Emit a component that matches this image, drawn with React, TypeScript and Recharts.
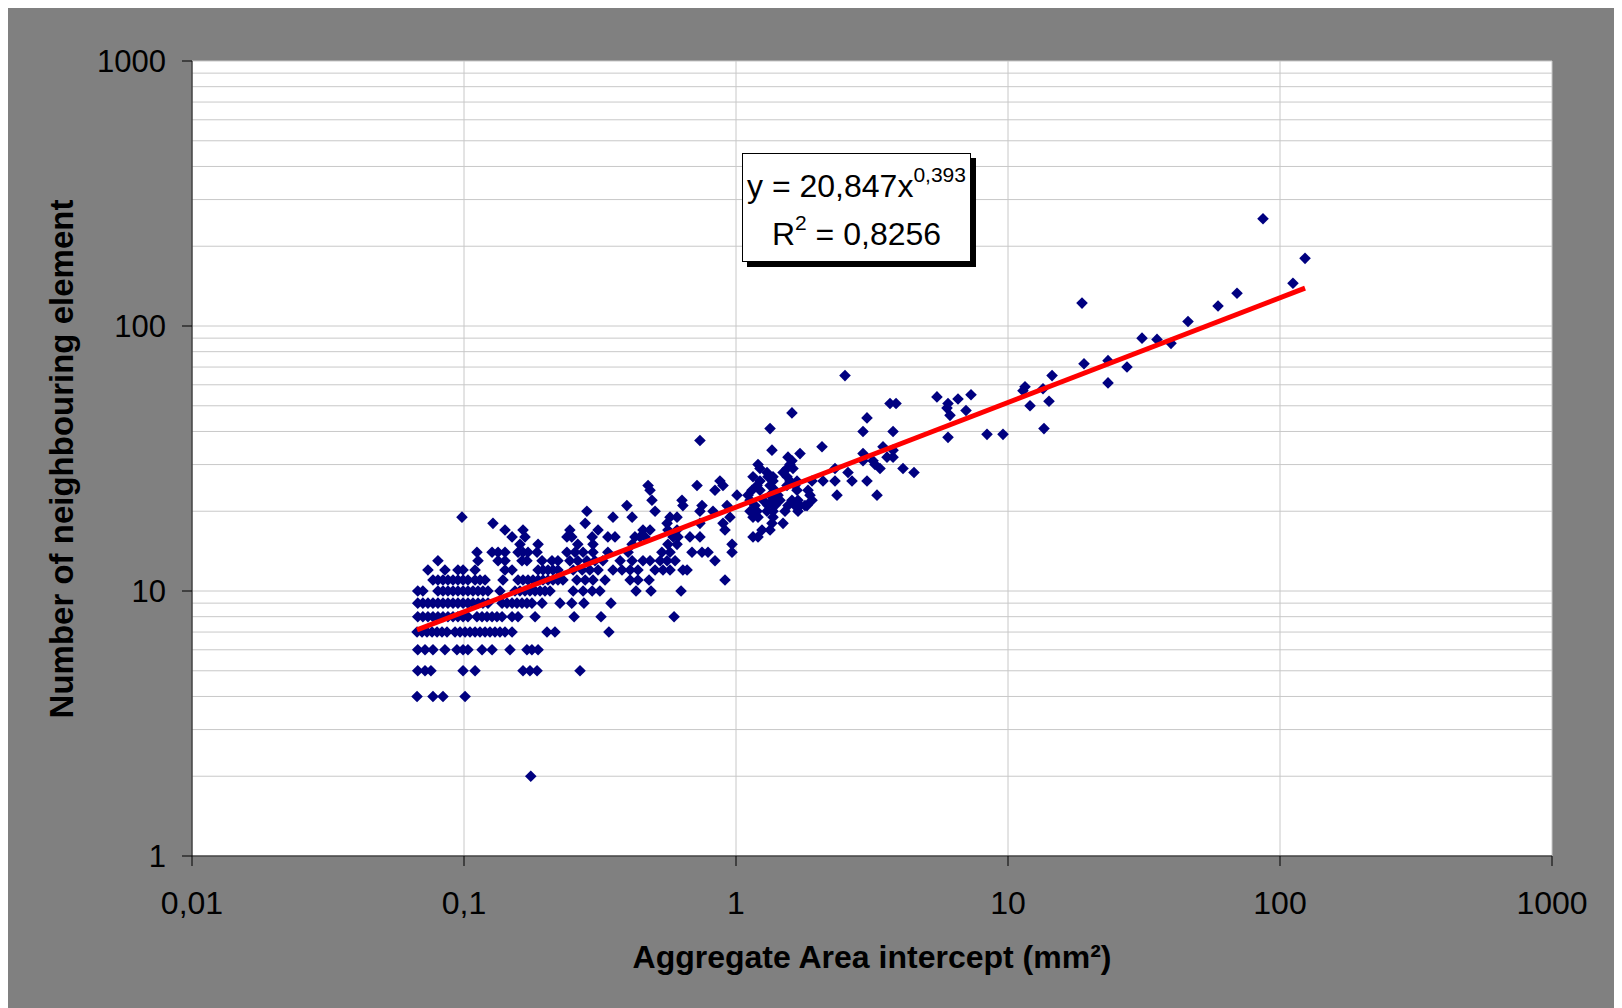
import React from 'react';
import { ScatterChart, Scatter, XAxis, YAxis, CartesianGrid } from 'recharts';

// aggregate area (mm²) of each particle, grouped by its number of neighbours
const lowCounts: [number, number[]][] = [
  [2, [0.176]],
  [4, [0.0672, 0.0769, 0.0837, 0.1009]],
  [5, [0.0676, 0.0719, 0.0756, 0.0992, 0.1098, 0.1648, 0.1748, 0.1856, 0.267]],
  [6, [0.0676, 0.0719, 0.0769, 0.0851, 0.0942, 0.0992, 0.1034, 0.1165, 0.1268, 0.1476, 0.1704, 0.1777, 0.1872]],
  [7, [0.0672, 0.0701, 0.0731, 0.0763, 0.0796, 0.083, 0.0866, 0.0927, 0.0967, 0.1009, 0.1052, 0.1098, 0.1145,
    0.1195, 0.1246, 0.13, 0.1356, 0.1415, 0.1502, 0.2019, 0.216, 0.341]],
  [8, [0.0676, 0.0706, 0.0737, 0.0769, 0.0802, 0.0837, 0.0873, 0.0911, 0.095, 0.0992, 0.1034, 0.1116, 0.1165,
    0.1215, 0.1268, 0.1322, 0.138, 0.1502, 0.158, 0.1825, 0.254, 0.319, 0.592]],
  [9, [0.0676, 0.0706, 0.0737, 0.0769, 0.0802, 0.0837, 0.0873, 0.0911, 0.095, 0.0992, 0.1034, 0.1079, 0.1126,
    0.1174, 0.1225, 0.138, 0.1439, 0.1502, 0.1566, 0.1634, 0.1704, 0.1777, 0.1936, 0.2254, 0.249, 0.276, 0.347]],
];

const midCounts: [number, number[]][] = [
  [10, [0.0676, 0.0706, 0.0802, 0.0837, 0.0873, 0.0911, 0.095, 0.0992, 0.1034, 0.1079, 0.1126, 0.1174, 0.1225,
    0.1356, 0.154, 0.1606, 0.1676, 0.1748, 0.1825, 0.1904, 0.1985, 0.2071, 0.252, 0.274, 0.296, 0.316, 0.429,
    0.487, 0.628]],
  [11, [0.0769, 0.0802, 0.0837, 0.0873, 0.0911, 0.095, 0.0992, 0.1034, 0.1098, 0.1145, 0.1195, 0.1391, 0.158,
    0.1648, 0.1719, 0.1793, 0.1872, 0.1952, 0.2036, 0.2124, 0.2215, 0.2311, 0.26, 0.279, 0.298, 0.33, 0.408,
    0.436, 0.479, 0.911]],
  [12, [0.0737, 0.0851, 0.095, 0.0992, 0.1098, 0.1415, 0.1502, 0.1872, 0.1952, 0.2036, 0.2124, 0.2215, 0.252,
    0.272, 0.29, 0.311, 0.353, 0.381, 0.408, 0.436, 0.504, 0.539, 0.572, 0.638, 0.661]],
  [13, [0.0802, 0.1126, 0.1334, 0.1415, 0.1634, 0.1704, 0.1936, 0.2106, 0.2215, 0.245, 0.262, 0.283, 0.303,
    0.324, 0.375, 0.415, 0.455, 0.483, 0.526, 0.558, 0.597, 0.837]],
  [14, [0.1116, 0.1268, 0.1334, 0.1415, 0.158, 0.1648, 0.1719, 0.1856, 0.239, 0.256, 0.274, 0.298, 0.338,
    0.401, 0.534, 0.572, 0.689, 0.75, 0.789, 0.967]],
  [15, [0.1606, 0.1872, 0.262, 0.298, 0.415, 0.562, 0.607, 0.967]],
  [16, [0.1502, 0.1676, 0.239, 0.249, 0.296, 0.338, 0.359, 0.425, 0.444, 0.463, 0.587, 0.612, 0.677, 0.737,
    1.155, 1.205]],
  [17, [0.1415, 0.1648, 0.245, 0.311, 0.455, 0.483, 0.562, 0.607, 0.911, 1.246, 1.334]],
  [18, [0.1278, 0.279, 0.558, 0.737, 0.896, 1.356, 1.489]],
  [19, [0.0983, 0.353, 0.415, 0.572, 0.607, 0.95, 1.155, 1.205, 1.368]],
];

const highCounts: [number, number[]][] = [
  [20, [0.283, 0.504, 0.737, 0.823, 1.126, 1.195, 1.3, 1.368, 1.514, 1.69]],
  [21, [0.397, 0.638, 0.75, 0.927, 1.174, 1.311, 1.391, 1.553, 1.648, 1.719, 1.793, 1.824]],
  [22, [0.491, 0.633, 1.126, 1.257, 1.368, 1.451, 1.606, 1.69, 1.903]],
  [23, [1.0085, 1.107, 1.334, 1.427, 1.871, 2.351, 3.299]],
  [24, [0.483, 0.837, 1.145, 1.225, 1.391, 1.676, 1.84]],
  [25, [0.475, 0.719, 0.896, 1.195, 1.334, 1.54, 1.648]],
  [26, [0.873, 1.225, 1.368, 1.579, 1.676, 1.903, 2.089, 2.312, 2.67, 3.031]],
  [27, [1.155, 1.311, 1.368, 1.54]],
  [28, [1.3, 1.489, 2.581, 4.512]],
  [29, [1.225, 1.54, 1.62, 2.312, 3.384, 4.111]],
  [30, [1.205, 1.579, 3.243]],
  [31, [1.606, 2.931, 3.189]],
  [32, [1.553, 3.591, 3.779]],
  [33, [1.719, 2.931]],
  [34, [1.356, 3.779]],
  [35, [2.071, 3.471]],
  [37, [0.737]],
  [38, [6.018]],
  [39, [8.372, 9.586]],
  [40, [2.931, 3.779]],
  [41, [1.334, 13.56]],
  [45, [3.031]],
  [46, [6.121]],
  [47, [1.606]],
  [48, [7.009]],
  [49, [5.967]],
  [50, [12.05]],
  [51, [3.683, 3.876, 6.018]],
  [52, [14.15]],
  [53, [6.549]],
  [54, [5.48]],
  [55, [7.311]],
  [57, [11.35]],
  [58, [13.45]],
  [59, [11.55]],
  [61, [23.32]],
  [65, [2.516, 14.52]],
  [70, [27.38]],
  [72, [19.03]],
  [74, [23.32]],
  [86, [39.74]],
  [89, [35.3]],
  [90, [31.1]],
  [104, [45.9]],
  [119, [59.18]],
  [122, [18.71]],
  [133, [69.5]],
  [145, [111.6]],
  [180, [123.6]],
  [254, [86.59]],
];

// power trendline end points
const trendArea = [0.0672, 123.6];
const trendCount = [7.13, 139];

const xTicks = [0.01, 0.1, 1, 10, 100, 1000];
const yTicks = [1, 10, 100, 1000];
const gridTicks = [1, 2, 3, 4, 5, 6, 7, 8, 9, 10, 20, 30, 40, 50, 60, 70, 80, 90, 100,
  200, 300, 400, 500, 600, 700, 800, 900, 1000];

const points = [...lowCounts, ...midCounts, ...highCounts].flatMap(([n, xs]) =>
  xs.map((x) => ({ x, y: n }))
);
const trend = trendArea.map((x, i) => ({ x, y: trendCount[i] }));

const font = '"Liberation Sans", Arial, sans-serif';
const fmt = (v: number) => String(v).replace('.', ',');

const Diamond = (props: any) => {
  const { cx, cy } = props;
  const r = 5.8;
  return (
    <path
      d={`M${cx},${cy - r}L${cx + r},${cy}L${cx},${cy + r}L${cx - r},${cy}Z`}
      fill="#000080"
    />
  );
};

const xTickStyle = { fill: '#000', fontSize: 32, fontFamily: font };
const yTickStyle = { fill: '#000', fontSize: 31, fontFamily: font };
const sup = { fontSize: 21, position: 'relative' as const, top: -15 };

export default function App() {
  return (
    <div style={{ position: 'relative', width: 1614, height: 1000, background: '#808080', overflow: 'hidden' }}>
      <style>{'body{overflow:hidden}'}</style>
      <ScatterChart width={1614} height={1000} margin={{ top: 53, right: 70, bottom: 92, left: 64 }}>
        <CartesianGrid yAxisId="grid" stroke="#c8c8c8" fill="#ffffff" />
        <XAxis
          type="number"
          dataKey="x"
          scale="log"
          domain={[0.01, 1000]}
          ticks={xTicks}
          interval={0}
          allowDataOverflow
          tickFormatter={fmt}
          tick={xTickStyle}
          tickSize={10}
          tickMargin={25}
          axisLine={{ stroke: '#000' }}
          tickLine={{ stroke: '#000' }}
          height={60}
        />
        <YAxis
          type="number"
          dataKey="y"
          scale="log"
          domain={[1, 1000]}
          ticks={yTicks}
          interval={0}
          allowDataOverflow
          tick={yTickStyle}
          tickSize={10}
          tickMargin={16}
          axisLine={{ stroke: '#000' }}
          tickLine={{ stroke: '#000' }}
          width={120}
        />
        <YAxis yAxisId="grid" type="number" scale="log" domain={[1, 1000]} ticks={gridTicks} interval={0} allowDataOverflow hide />
        <Scatter data={points} shape={Diamond} isAnimationActive={false} />
        <Scatter
          data={trend}
          line={{ stroke: '#ff0000', strokeWidth: 5 }}
          shape={() => <g />}
          isAnimationActive={false}
        />
      </ScatterChart>
      <div
        style={{
          position: 'absolute', left: 734, top: 145, width: 229, height: 109,
          border: '1px solid #000', background: '#fff', boxShadow: '5px 5px 0 #000',
          fontFamily: font, fontSize: 32, textAlign: 'center', lineHeight: '44px',
          paddingTop: 10, boxSizing: 'border-box', color: '#000', whiteSpace: 'nowrap',
        }}
      >
        <div>
          y = 20,847x<span style={sup}>0,393</span>
        </div>
        <div>
          R<span style={sup}>2</span> = 0,8256
        </div>
      </div>
      <div
        style={{
          position: 'absolute', left: 864, top: 949, transform: 'translate(-50%, -50%)',
          fontFamily: font, fontWeight: 'bold', fontSize: 32, whiteSpace: 'nowrap', color: '#000',
        }}
      >
        Aggregate Area intercept (mm²)
      </div>
      <div
        style={{
          position: 'absolute', left: 54, top: 451, transform: 'translate(-50%, -50%) rotate(-90deg)',
          fontFamily: font, fontWeight: 'bold', fontSize: 33, whiteSpace: 'nowrap', color: '#000',
        }}
      >
        Number of neighbouring element
      </div>
    </div>
  );
}
